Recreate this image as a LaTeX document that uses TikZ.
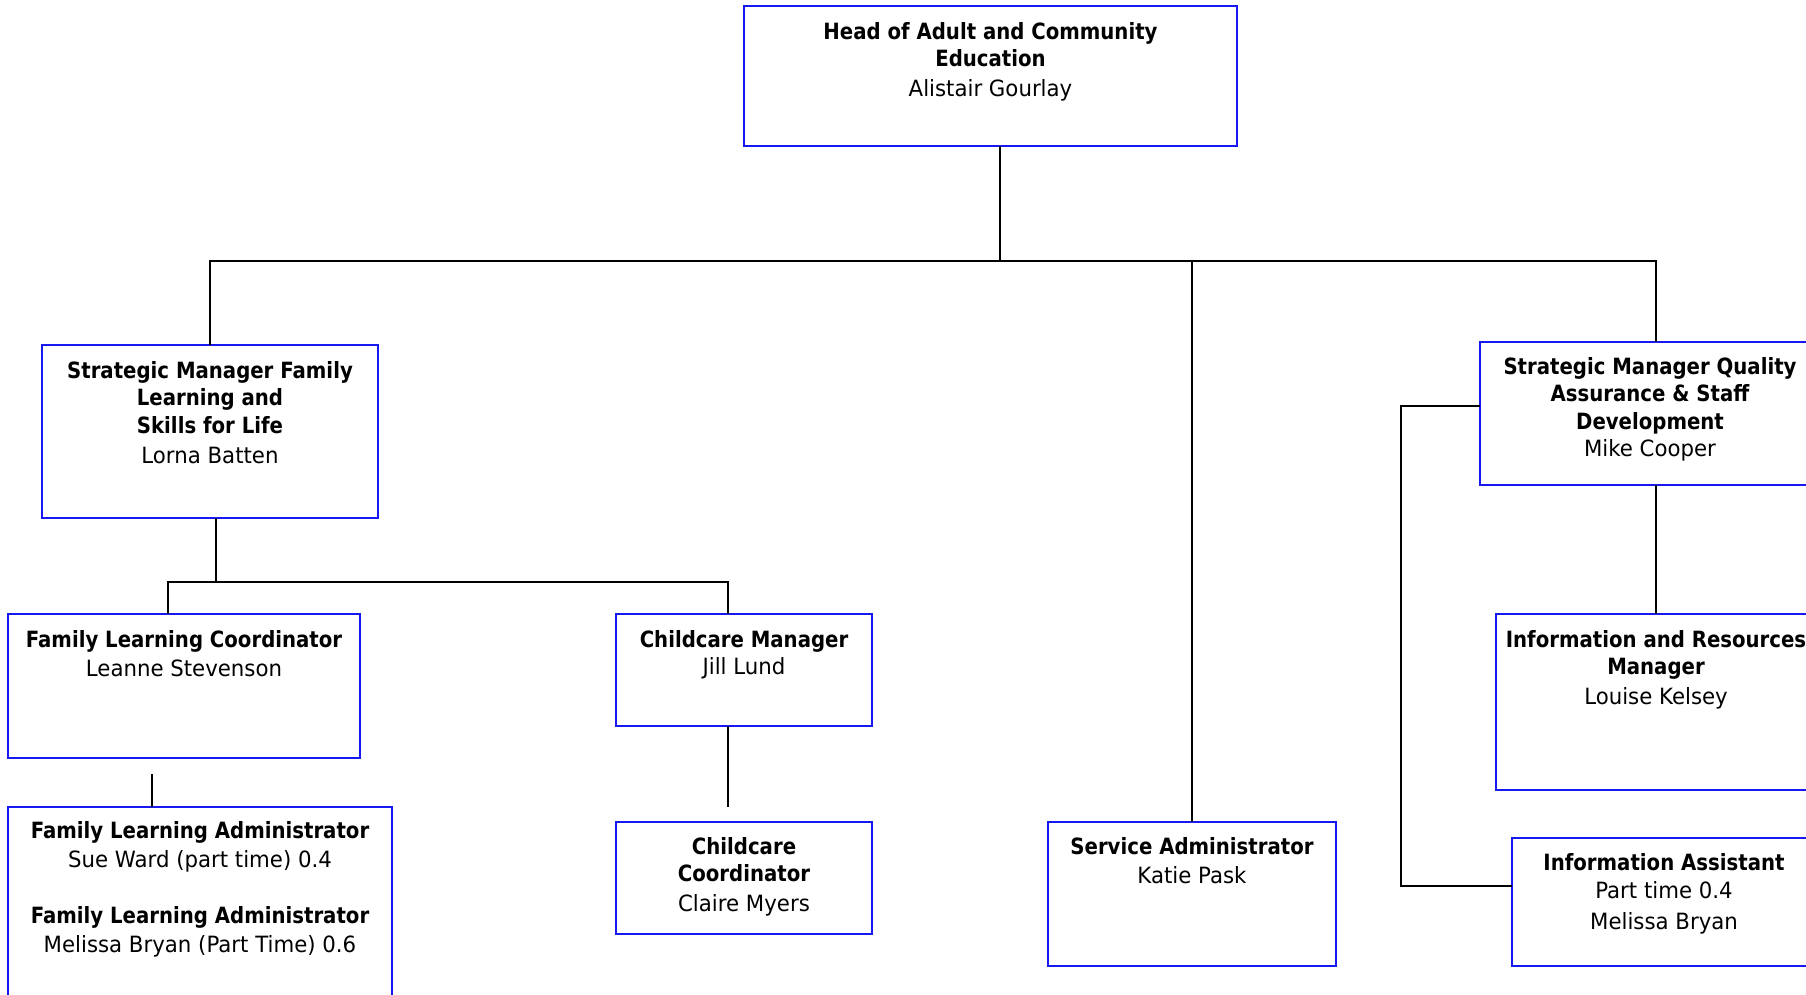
\documentclass[tikz,border=0pt]{standalone}
\usepackage{fontspec}
\setmainfont{DejaVu Sans}[FakeStretch=0.95]
\newfontfamily\titlefont{DejaVu Sans}[FakeStretch=0.88]
\newcommand{\ttl}[1]{{\titlefont\bfseries #1}}
\definecolor{boxblue}{RGB}{24,24,242}
\begin{document}
\begin{tikzpicture}[x=1pt,y=-1pt,
  box/.style={draw=boxblue, line width=2pt, inner sep=0pt, outer sep=0pt,
              anchor=north west, rectangle},
  txt/.style={anchor=north, align=center, inner sep=0pt,
              font=\fontsize{22.4}{27.5}\selectfont},
  link/.style={line width=1.6pt, black}]
\useasboundingbox (0,0) rectangle (1806,995);
\clip (0,0) rectangle (1806,995);

% ---- boxes ----
\node[box, minimum width=493pt, minimum height=140pt] (hd)    at (744,6)   {};
\node[box, minimum width=336pt, minimum height=173pt] (lorna) at (42,345)  {};
\node[box, minimum width=352pt, minimum height=144pt] (flc)   at (8,614)   {};
\node[box, minimum width=384pt, minimum height=220pt] (fla)   at (8,807)   {};
\node[box, minimum width=256pt, minimum height=112pt] (cm)    at (616,614) {};
\node[box, minimum width=256pt, minimum height=112pt] (cc)    at (616,822) {};
\node[box, minimum width=288pt, minimum height=144pt] (svc)   at (1048,822){};
\node[box, minimum width=340pt, minimum height=143pt] (smq)   at (1480,342){};
\node[box, minimum width=320pt, minimum height=176pt] (irm)   at (1496,614){};
\node[box, minimum width=304pt, minimum height=128pt] (ia)    at (1512,838){};

% ---- texts ----
\node[txt] (hdt) at ([yshift=-16pt]hd.north)
  {\ttl{Head of Adult and Community}\\ \ttl{Education}\\[2.5pt] Alistair Gourlay};
\node[txt] (lornat) at ([yshift=-16pt]lorna.north)
  {\ttl{Strategic Manager Family}\\ \ttl{Learning and}\\ \ttl{Skills for Life}\\[2.5pt] Lorna Batten};
\node[txt] (flct) at ([yshift=-16pt]flc.north)
  {\ttl{Family Learning Coordinator}\\[2pt] Leanne Stevenson};
\node[txt] (flat) at ([yshift=-14pt]fla.north)
  {\ttl{Family Learning Administrator}\\[2pt] Sue Ward (part time) 0.4\\[28pt]
   \ttl{Family Learning Administrator}\\[2pt] Melissa Bryan (Part Time) 0.6};
\node[txt] (cmt) at ([yshift=-16pt]cm.north)
  {\ttl{Childcare Manager}\\ Jill Lund};
\node[txt] (cct) at ([yshift=-15pt]cc.north)
  {\ttl{Childcare}\\ \ttl{Coordinator}\\[2pt] Claire Myers};
\node[txt] (svct) at ([yshift=-15pt]svc.north)
  {\ttl{Service Administrator}\\[2pt] Katie Pask};
\node[txt] (smqt) at ([yshift=-15pt]smq.north)
  {\ttl{Strategic Manager Quality}\\ \ttl{Assurance \& Staff}\\ \ttl{Development}\\ Mike Cooper};
\node[txt] (irmt) at ([yshift=-16pt]irm.north)
  {\ttl{Information and Resources}\\ \ttl{Manager}\\[2pt] Louise Kelsey};
\node[txt] (iat) at ([yshift=-15pt]ia.north)
  {\ttl{Information Assistant}\\[1pt] Part time 0.4\\[3pt] Melissa Bryan};

% ---- junction points ----
\coordinate (bus)  at (1000,261);
\coordinate (busL) at (210,261);
\coordinate (busS) at (1192,261);
\coordinate (busR) at (1656,261);
\coordinate (fm)   at (216,582);
\coordinate (fl)   at (168,582);
\coordinate (fr)   at (728,582);
\coordinate (flaTop) at (152,774);
\coordinate (cmEnd)  at (728,807);
\coordinate (brkT) at (1401,406);
\coordinate (brkB) at (1401,886);

% ---- connectors ----
\draw[link] (bus |- hd.south) -- (bus);
\draw[link] (busL |- lorna.north) -- (busL) -- (busR) -- (busR |- smq.north);
\draw[link] (busS) -- (busS |- svc.north);
\draw[link] (fm |- lorna.south) -- (fm);
\draw[link] (fl |- flc.north) -- (fl) -- (fr) -- (fr |- cm.north);
\draw[link] (flaTop) -- (flaTop |- fla.north);
\draw[link] (cmEnd |- cm.south) -- (cmEnd);
\draw[link] (busR |- smq.south) -- (busR |- irm.north);
\draw[link] (smq.west |- brkT) -- (brkT) -- (brkB) -- (ia.west |- brkB);
\end{tikzpicture}
\end{document}
